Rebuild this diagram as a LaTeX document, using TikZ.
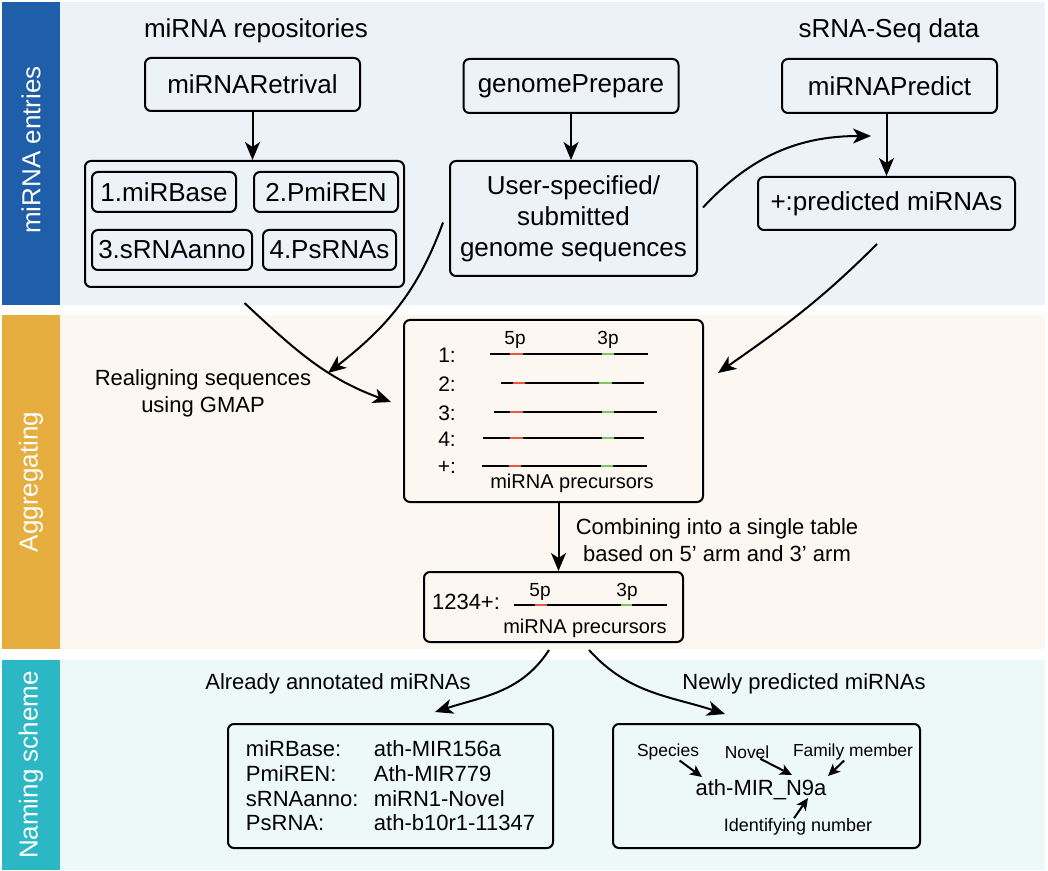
\documentclass[tikz,border=0pt]{standalone}
\usepackage{fontspec}
\setmainfont{Liberation Sans}
\usetikzlibrary{arrows.meta}

\definecolor{entryblue}{RGB}{31,94,168}
\definecolor{entrybg}{RGB}{237,242,249}
\definecolor{aggorange}{RGB}{229,174,62}
\definecolor{aggbg}{RGB}{252,248,241}
\definecolor{nameteal}{RGB}{43,184,196}
\definecolor{namebg}{RGB}{237,249,249}
\definecolor{armred}{RGB}{233,87,63}
\definecolor{armgreen}{RGB}{125,196,90}

\newcommand{\boxfont}{\fontsize{13}{15.5}\selectfont}
\newcommand{\notefont}{\fontsize{11}{13.5}\selectfont}
\newcommand{\rowfont}{\fontsize{10.5}{12}\selectfont}
\newcommand{\tagfont}{\fontsize{9.5}{11}\selectfont}

\begin{document}
\begin{tikzpicture}[x=0.5pt,y=0.5pt]
			\tikzstyle{every node}+=[inner sep=0pt]
			\tikzstyle{box}=[draw=black, line width=1pt, rounded corners=3pt, font=\boxfont]
			\tikzstyle{arr}=[black, line width=1pt, -{Stealth[length=9pt,width=7.5pt,inset=2.5pt]}]
			\tikzstyle{band}=[font=\boxfont, text=white, rotate=90]
			\tikzstyle{strand}=[black, line width=0.7pt]
			\tikzstyle{fivep}=[armred, line width=1.2pt]
			\tikzstyle{threep}=[armgreen, line width=1.2pt]
			\useasboundingbox (0,0) rectangle (1048,-871);
			% bands
			\fill [entrybg] (60,-2) rectangle (1045,-305);
			\fill [entryblue] (2,-2) rectangle (60,-305);
			\fill [aggbg] (60,-315) rectangle (1045,-649);
			\fill [aggorange] (2,-315) rectangle (60,-649);
			\fill [namebg] (60,-660) rectangle (1045,-870);
			\fill [nameteal] (2,-660) rectangle (60,-870);
			\node [band] (entries) at (31,-150) {miRNA entries};
			\node [band] (aggregating) at (31,-482) {Aggregating};
			\node [band] (naming) at (31,-765) {Naming scheme};
			% miRNA entries
			\node [font=\boxfont] (repotitle) at (256,-31) {miRNA repositories};
			\node [font=\boxfont] (seqtitle) at (889,-31) {sRNA-Seq data};
			\node [box, minimum width=107.5pt, minimum height=26.5pt] (retr) at (252.5,-84.5) {miRNARetrival};
			\node [box, minimum width=159.5pt, minimum height=63pt] (repos) at (244.5,-224) {};
			\node [box, minimum width=72pt, minimum height=20pt] (mirbase) at (164,-192) {1.miRBase};
			\node [box, minimum width=72pt, minimum height=20pt] (pmiren) at (326,-192) {2.PmiREN};
			\node [box, minimum width=80pt, minimum height=20pt] (srnaanno) at (172,-250) {3.sRNAanno};
			\node [box, minimum width=66.5pt, minimum height=20pt] (psrnas) at (329.5,-250) {4.PsRNAs};
			\node [box, minimum width=107.5pt, minimum height=27pt] (prep) at (571,-86) {genomePrepare};
			\node [box, minimum width=123.5pt, minimum height=57.5pt, align=center] (user) at (573.5,-218.5) {User-specified/\\submitted\\genome sequences};
			\node [box, minimum width=107.5pt, minimum height=27pt] (pred) at (889.5,-86) {miRNAPredict};
			\node [box, minimum width=128.5pt, minimum height=26.5pt] (plus) at (886.5,-203.5) {+:predicted miRNAs};
			\draw [arr] (retr.south) -- (retr.south |- repos.north);
			\draw [arr] (prep.south) -- (prep.south |- user.north);
			\draw [arr] (plus.north |- pred.south) -- (plus.north);
			\coordinate (plusin) at (871,-136);
			\draw [arr] ([shift={(2.5pt,5.5pt)}]user.east) to [out=47,in=180] (plusin);
			% aggregating
			\node [draw=black, line width=1pt, rounded corners=3pt, minimum width=149.5pt, minimum height=91pt] (prec) at (553.5,-411) {};
			\node [font=\tagfont] (fivetag) at (515,-340) {5p};
			\node [font=\tagfont] (threetag) at (608,-340) {3p};
			\node [font=\rowfont] (row1) at (447,-355.5) {1:};
			\node [font=\rowfont] (row2) at (447,-384.5) {2:};
			\node [font=\rowfont] (row3) at (447,-413.5) {3:};
			\node [font=\rowfont] (row4) at (447,-439.5) {4:};
			\node [font=\rowfont] (rowplus) at (447,-467.5) {+:};
			\draw [strand] (490,-354) -- (648,-354);
			\draw [fivep] (510,-354) -- (523,-354);
			\draw [threep] (602,-354) -- (614,-354);
			\draw [strand] (501,-383) -- (644,-383);
			\draw [fivep] (513,-383) -- (525,-383);
			\draw [threep] (599,-383) -- (612,-383);
			\draw [strand] (494,-412) -- (657,-412);
			\draw [fivep] (510,-412) -- (523,-412);
			\draw [threep] (602,-412) -- (614,-412);
			\draw [strand] (483,-438) -- (644,-438);
			\draw [fivep] (510,-438) -- (523,-438);
			\draw [threep] (602,-438) -- (614,-438);
			\draw [strand] (482,-466) -- (647,-466);
			\draw [fivep] (509,-466) -- (521,-466);
			\draw [threep] (601,-466) -- (613,-466);
			\node [font=\fontsize{10}{12}\selectfont] (preclabel) at (572,-483) {miRNA precursors};
			\node [font=\notefont, align=center] (realign) at (203,-393) {Realigning sequences\\using GMAP};
			\coordinate (userin) at (328,-373);
			\draw [arr] ([yshift=-7.5pt]repos.south) to [out=-43,in=160] ([shift={(-6pt,4.5pt)}]prec.west);
			\draw [arr] ([shift={(-3pt,-2pt)}]user.west) to [out=-110,in=38] (userin);
			\draw [arr] ([shift={(-4.75pt,-6.5pt)}]plus.south) to [out=-135,in=35] ([shift={(7pt,19pt)}]prec.east);
			\node [draw=black, line width=1pt, rounded corners=3pt, minimum width=129.5pt, minimum height=35pt] (comb) at (553.5,-607) {};
			\node [font=\notefont, align=center] (combine) at (717,-540) {Combining into a single table\\based on 5’ arm and 3’ arm};
			\draw [arr] ([xshift=2.5pt]prec.south) -- ([xshift=2.5pt]comb.north);
			\node [font=\notefont] (allrow) at (466,-602) {1234+:};
			\node [font=\tagfont] (allfive) at (540,-592) {5p};
			\node [font=\tagfont] (allthree) at (627,-592) {3p};
			\draw [strand] (514,-605) -- (667,-605);
			\draw [fivep] (535,-605) -- (547,-605);
			\draw [threep] (621,-605) -- (632,-605);
			\node [font=\fontsize{10}{12}\selectfont] (alllabel) at (585,-628) {miRNA precursors};
			% naming scheme
			\node [font=\notefont] (annotitle) at (338,-684) {Already annotated miRNAs};
			\node [font=\notefont] (newtitle) at (804,-684) {Newly predicted miRNAs};
			\node [draw=black, line width=1pt, rounded corners=3pt, minimum width=162.5pt, minimum height=62pt, align=left, font=\fontsize{11}{12.35}\selectfont] (anno) at (390.5,-786) {\makebox[64pt][l]{miRBase:}ath-MIR156a\\\makebox[64pt][l]{PmiREN:}Ath-MIR779\\\makebox[64pt][l]{sRNAanno:}miRN1-Novel\\\makebox[64pt][l]{PsRNA:}ath-b10r1-11347};
			\node [draw=black, line width=1pt, rounded corners=3pt, minimum width=153.5pt, minimum height=62pt] (newb) at (766.5,-786) {};
			\draw [arr] ([shift={(-2.25pt,-3.5pt)}]comb.south) to [out=-123,in=18] ([shift={(22.25pt,5.5pt)}]anno.north);
			\draw [arr] ([shift={(17.75pt,-3.5pt)}]comb.south) to [out=-48,in=162] ([shift={(-20.75pt,4.5pt)}]newb.north);
			\node [font=\notefont] (code) at (761,-790) {ath-MIR\_N9a};
			\node [font=\fontsize{8.7}{10}\selectfont] (species) at (668,-752) {Species};
			\node [font=\fontsize{8.7}{10}\selectfont] (novel) at (747,-752) {Novel};
			\node [font=\fontsize{8.7}{10}\selectfont] (family) at (853,-752) {Family member};
			\node [font=\fontsize{9}{11}\selectfont] (ident) at (798,-827) {Identifying number};
			\coordinate (sptip) at (702,-777);
			\coordinate (novtip) at (792,-775);
			\coordinate (famtip) at (828,-776);
			\coordinate (idtip) at (808,-798);
			\tikzstyle{small arr}=[black, line width=1pt, -{Stealth[length=6pt,width=5.5pt,inset=1.5pt]}]
			\draw [small arr] (species) -- (sptip);
			\draw [small arr] (novel) -- (novtip);
			\draw [small arr] (family) -- (famtip);
			\draw [small arr] ([xshift=-2pt]ident.north) -- (idtip);
\end{tikzpicture}
\end{document}
